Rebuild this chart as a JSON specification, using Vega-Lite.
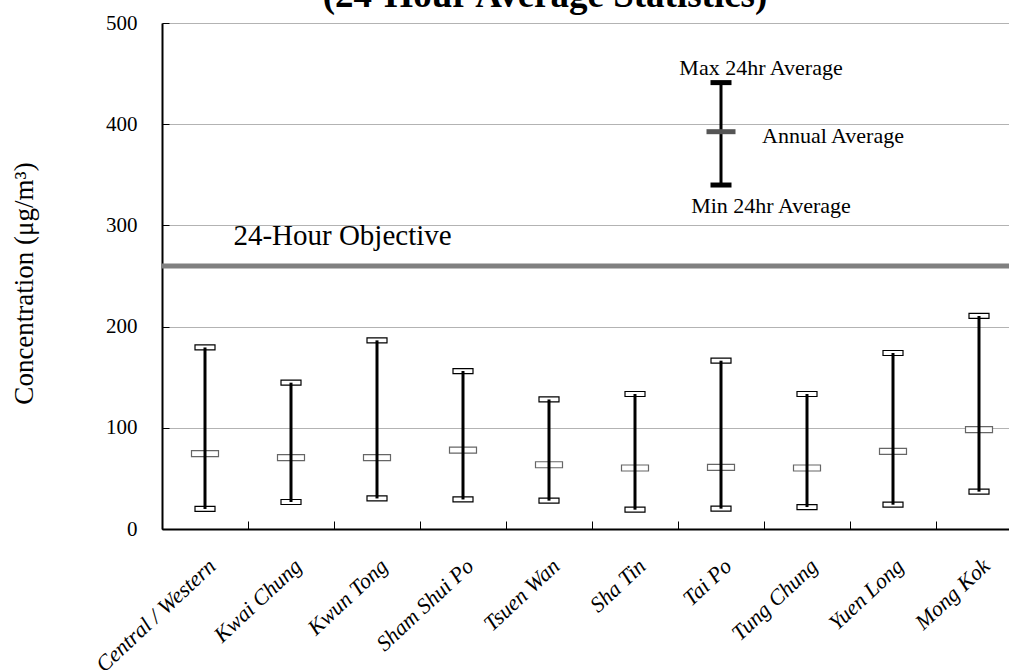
{
  "$schema": "https://vega.github.io/schema/vega-lite/v6.json",
  "width": 847,
  "height": 506,
  "autosize": {"type": "none"},
  "padding": {"left": 162, "top": 23, "right": 0, "bottom": 141},
  "background": "white",
  "config": {"view": {"stroke": null}, "font": "Liberation Serif, Times New Roman, serif"},
  "datasets": {
    "stations": [
      {"station": "Central / Western", "min": 19.8, "avg": 74.4, "max": 179.4},
      {"station": "Kwai Chung", "min": 26.7, "avg": 70.5, "max": 144.6},
      {"station": "Kwun Tong", "min": 30.2, "avg": 70.5, "max": 186.4},
      {"station": "Sham Shui Po", "min": 29.2, "avg": 78, "max": 156.1},
      {"station": "Tsuen Wan", "min": 28, "avg": 63.5, "max": 128},
      {"station": "Sha Tin", "min": 19.1, "avg": 60.3, "max": 133.4},
      {"station": "Tai Po", "min": 20.1, "avg": 60.9, "max": 166.3},
      {"station": "Tung Chung", "min": 21.7, "avg": 60.3, "max": 133.4},
      {"station": "Yuen Long", "min": 24, "avg": 76.7, "max": 173.9},
      {"station": "Mong Kok", "min": 36.9, "avg": 98.1, "max": 210.5}
    ],
    "legend": [
      {"station": "Tai Po", "min": 339.9, "avg": 392.6, "max": 441.1}
    ],
    "objective": [
      {"station": "Central / Western", "label": "24-Hour Objective", "value": 260}
    ],
    "heading": [
      {"station": "Tsuen Wan", "label": "(24-Hour Average Statistics)", "value": 500}
    ]
  },
  "layer": [
    {
      "data": {"name": "stations"},
      "mark": {"type": "tick", "size": 20, "thickness": 5, "fill": "white", "stroke": "black", "strokeWidth": 1.2, "opacity": 1},
      "encoding": {
        "x": {
          "field": "station", "type": "nominal", "sort": null,
          "scale": {"range": [0, 860], "paddingInner": 0, "paddingOuter": 0},
          "axis": {
            "title": null,
            "labelAngle": -43,
            "labelAlign": "right",
            "labelBaseline": "top",
            "labelFont": "Liberation Serif, Times New Roman, serif",
            "labelFontStyle": "italic",
            "labelFontSize": 22,
            "labelColor": "black",
            "labelPadding": 34,
            "tickBand": "extent",
            "tickSize": -8,
            "tickColor": "black",
            "tickWidth": 1,
            "domainColor": "black",
            "domainWidth": 2,
            "grid": false
          }
        },
        "y": {
          "field": "max", "type": "quantitative",
          "scale": {"domain": [0, 500], "nice": false, "zero": true},
          "axis": {
            "values": [0, 100, 200, 300, 400, 500],
            "grid": true,
            "gridColor": "#b3b3b3",
            "gridWidth": 1,
            "tickSize": -7,
            "tickColor": "black",
            "tickWidth": 1,
            "domainColor": "black",
            "domainWidth": 2,
            "labelFont": "Liberation Serif, Times New Roman, serif",
            "labelFontSize": 21,
            "labelColor": "black",
            "labelPadding": 32,
            "title": "Concentration (μg/m³)",
            "titleFont": "Liberation Serif, Times New Roman, serif",
            "titleFontSize": 27,
            "titleFontWeight": "normal",
            "titleColor": "black",
            "titleX": -124,
            "titleY": 260,
            "titleBaseline": "bottom"
          }
        }
      }
    },
    {
      "data": {"name": "stations"},
      "mark": {"type": "tick", "size": 20, "thickness": 5, "fill": "white", "stroke": "black", "strokeWidth": 1.2, "opacity": 1},
      "encoding": {
        "x": {"field": "station", "type": "nominal", "sort": null},
        "y": {"field": "min", "type": "quantitative"}
      }
    },
    {
      "data": {"name": "stations"},
      "mark": {"type": "tick", "size": 27, "thickness": 6, "fill": "white", "stroke": "#666666", "strokeWidth": 1.2, "opacity": 1},
      "encoding": {
        "x": {"field": "station", "type": "nominal", "sort": null},
        "y": {"field": "avg", "type": "quantitative"}
      }
    },
    {
      "data": {"name": "stations"},
      "mark": {"type": "rule", "color": "black", "strokeWidth": 3},
      "encoding": {
        "x": {"field": "station", "type": "nominal", "sort": null},
        "y": {"field": "min", "type": "quantitative"},
        "y2": {"field": "max"}
      }
    },
    {
      "data": {"name": "legend"},
      "mark": {"type": "tick", "size": 21, "thickness": 5, "color": "black", "opacity": 1},
      "encoding": {
        "x": {"field": "station", "type": "nominal", "sort": null},
        "y": {"field": "max", "type": "quantitative"}
      }
    },
    {
      "data": {"name": "legend"},
      "mark": {"type": "tick", "size": 21, "thickness": 5, "color": "black", "opacity": 1},
      "encoding": {
        "x": {"field": "station", "type": "nominal", "sort": null},
        "y": {"field": "min", "type": "quantitative"}
      }
    },
    {
      "data": {"name": "legend"},
      "mark": {"type": "rule", "color": "black", "strokeWidth": 3},
      "encoding": {
        "x": {"field": "station", "type": "nominal", "sort": null},
        "y": {"field": "min", "type": "quantitative"},
        "y2": {"field": "max"}
      }
    },
    {
      "data": {"name": "legend"},
      "mark": {"type": "tick", "size": 29, "thickness": 5, "color": "#555555", "opacity": 1},
      "encoding": {
        "x": {"field": "station", "type": "nominal", "sort": null},
        "y": {"field": "avg", "type": "quantitative"}
      }
    },
    {
      "data": {"name": "legend"},
      "mark": {"type": "text", "font": "Liberation Serif, Times New Roman, serif", "fontSize": 22, "color": "black", "align": "center", "baseline": "middle", "dx": 40, "dy": -15},
      "encoding": {
        "x": {"field": "station", "type": "nominal", "sort": null},
        "y": {"field": "max", "type": "quantitative"},
        "text": {"value": "Max 24hr Average"}
      }
    },
    {
      "data": {"name": "legend"},
      "mark": {"type": "text", "font": "Liberation Serif, Times New Roman, serif", "fontSize": 22, "color": "black", "align": "left", "baseline": "middle", "dx": 41, "dy": 4},
      "encoding": {
        "x": {"field": "station", "type": "nominal", "sort": null},
        "y": {"field": "avg", "type": "quantitative"},
        "text": {"value": "Annual Average"}
      }
    },
    {
      "data": {"name": "legend"},
      "mark": {"type": "text", "font": "Liberation Serif, Times New Roman, serif", "fontSize": 22, "color": "black", "align": "center", "baseline": "middle", "dx": 50, "dy": 21},
      "encoding": {
        "x": {"field": "station", "type": "nominal", "sort": null},
        "y": {"field": "min", "type": "quantitative"},
        "text": {"value": "Min 24hr Average"}
      }
    },
    {
      "data": {"name": "objective"},
      "mark": {"type": "rule", "color": "#808080", "strokeWidth": 5},
      "encoding": {
        "y": {"field": "value", "type": "quantitative"}
      }
    },
    {
      "data": {"name": "objective"},
      "mark": {"type": "text", "font": "Liberation Serif, Times New Roman, serif", "fontSize": 29, "color": "black", "align": "left", "baseline": "alphabetic", "dy": -21},
      "encoding": {
        "x": {"field": "station", "type": "nominal", "sort": null, "bandPosition": 0.83},
        "y": {"field": "value", "type": "quantitative"},
        "text": {"field": "label"}
      }
    },
    {
      "data": {"name": "heading"},
      "mark": {"type": "text", "font": "Liberation Serif, Times New Roman, serif", "fontSize": 37, "fontWeight": "bold", "color": "black", "align": "center", "baseline": "alphabetic", "dx": -4, "dy": -16},
      "encoding": {
        "x": {"field": "station", "type": "nominal", "sort": null},
        "y": {"field": "value", "type": "quantitative"},
        "text": {"field": "label"}
      }
    },
    {
      "mark": {"type": "rule", "color": "black", "strokeWidth": 2},
      "encoding": {
        "y": {"datum": 500, "type": "quantitative"}
      }
    }
  ]
}
